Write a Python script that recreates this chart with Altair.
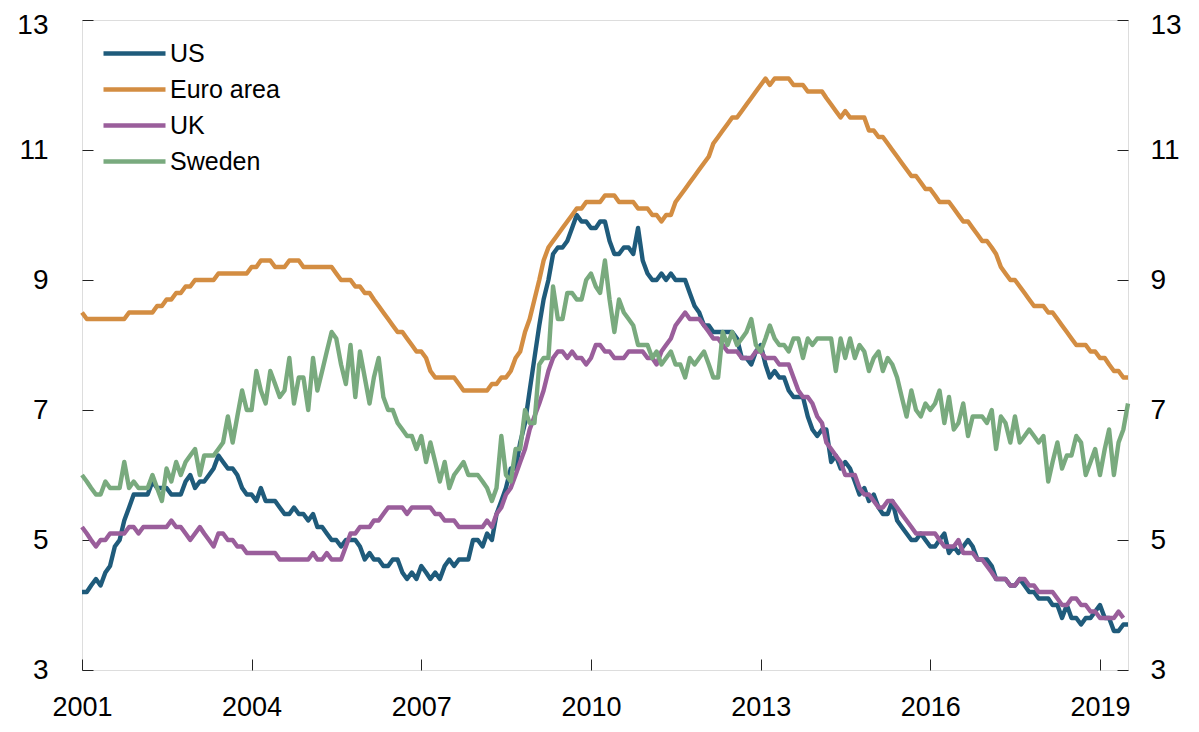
import altair as alt
import pandas as pd

# ---------------- data (monthly, starting January 2001) ----------------
series_names = ["US", "Euro area", "UK", "Sweden"]
series_colors = ["#1f5b7b", "#d38d42", "#9a5e9b", "#79aa7e"]
start_year = 2001

us = [
    4.2, 4.2, 4.3, 4.4, 4.3, 4.5, 4.6, 4.9, 5.0, 5.3, 5.5, 5.7,   # 2001
    5.7, 5.7, 5.7, 5.9, 5.8, 5.8, 5.8, 5.7, 5.7, 5.7, 5.9, 6.0,   # 2002
    5.8, 5.9, 5.9, 6.0, 6.1, 6.3, 6.2, 6.1, 6.1, 6.0, 5.8, 5.7,   # 2003
    5.7, 5.6, 5.8, 5.6, 5.6, 5.6, 5.5, 5.4, 5.4, 5.5, 5.4, 5.4,   # 2004
    5.3, 5.4, 5.2, 5.2, 5.1, 5.0, 5.0, 4.9, 5.0, 5.0, 5.0, 4.9,   # 2005
    4.7, 4.8, 4.7, 4.7, 4.6, 4.6, 4.7, 4.7, 4.5, 4.4, 4.5, 4.4,   # 2006
    4.6, 4.5, 4.4, 4.5, 4.4, 4.6, 4.7, 4.6, 4.7, 4.7, 4.7, 5.0,   # 2007
    5.0, 4.9, 5.1, 5.0, 5.4, 5.6, 5.8, 6.1, 6.1, 6.5, 6.8, 7.3,   # 2008
    7.8, 8.3, 8.7, 9.0, 9.4, 9.5, 9.5, 9.6, 9.8, 10.0, 9.9, 9.9,  # 2009
    9.8, 9.8, 9.9, 9.9, 9.6, 9.4, 9.4, 9.5, 9.5, 9.4, 9.8, 9.3,   # 2010
    9.1, 9.0, 9.0, 9.1, 9.0, 9.1, 9.0, 9.0, 9.0, 8.8, 8.6, 8.5,   # 2011
    8.3, 8.3, 8.2, 8.2, 8.2, 8.2, 8.2, 8.1, 7.8, 7.8, 7.7, 7.9,   # 2012
    8.0, 7.7, 7.5, 7.6, 7.5, 7.5, 7.3, 7.2, 7.2, 7.2, 6.9, 6.7,   # 2013
    6.6, 6.7, 6.7, 6.2, 6.3, 6.1, 6.2, 6.1, 5.9, 5.7, 5.8, 5.6,   # 2014
    5.7, 5.5, 5.4, 5.4, 5.6, 5.3, 5.2, 5.1, 5.0, 5.0, 5.1, 5.0,   # 2015
    4.9, 4.9, 5.0, 5.1, 4.8, 4.9, 4.8, 4.9, 5.0, 4.9, 4.7, 4.7,   # 2016
    4.7, 4.6, 4.4, 4.4, 4.4, 4.3, 4.3, 4.4, 4.3, 4.2, 4.2, 4.1,   # 2017
    4.1, 4.1, 4.0, 4.0, 3.8, 4.0, 3.8, 3.8, 3.7, 3.8, 3.8, 3.9,   # 2018
    4.0, 3.8, 3.8, 3.6, 3.6, 3.7, 3.7,                            # 2019
]

euro = [
    8.5, 8.4, 8.4, 8.4, 8.4, 8.4, 8.4, 8.4, 8.4, 8.4, 8.5, 8.5,   # 2001
    8.5, 8.5, 8.5, 8.5, 8.6, 8.6, 8.7, 8.7, 8.8, 8.8, 8.9, 8.9,   # 2002
    9.0, 9.0, 9.0, 9.0, 9.0, 9.1, 9.1, 9.1, 9.1, 9.1, 9.1, 9.1,   # 2003
    9.2, 9.2, 9.3, 9.3, 9.3, 9.2, 9.2, 9.2, 9.3, 9.3, 9.3, 9.2,   # 2004
    9.2, 9.2, 9.2, 9.2, 9.2, 9.2, 9.1, 9.0, 9.0, 9.0, 8.9, 8.9,   # 2005
    8.8, 8.8, 8.7, 8.6, 8.5, 8.4, 8.3, 8.2, 8.2, 8.1, 8.0, 7.9,   # 2006
    7.9, 7.8, 7.6, 7.5, 7.5, 7.5, 7.5, 7.5, 7.4, 7.3, 7.3, 7.3,   # 2007
    7.3, 7.3, 7.3, 7.4, 7.4, 7.5, 7.5, 7.6, 7.8, 7.9, 8.2, 8.4,   # 2008
    8.7, 9.0, 9.3, 9.5, 9.6, 9.7, 9.8, 9.9, 10.0, 10.1, 10.1, 10.2,  # 2009
    10.2, 10.2, 10.2, 10.3, 10.3, 10.3, 10.2, 10.2, 10.2, 10.2, 10.1, 10.1,  # 2010
    10.1, 10.0, 10.0, 9.9, 10.0, 10.0, 10.2, 10.3, 10.4, 10.5, 10.6, 10.7,  # 2011
    10.8, 10.9, 11.1, 11.2, 11.3, 11.4, 11.5, 11.5, 11.6, 11.7, 11.8, 11.9,  # 2012
    12.0, 12.1, 12.0, 12.1, 12.1, 12.1, 12.1, 12.0, 12.0, 12.0, 11.9, 11.9,  # 2013
    11.9, 11.9, 11.8, 11.7, 11.6, 11.5, 11.6, 11.5, 11.5, 11.5, 11.5, 11.3,  # 2014
    11.3, 11.2, 11.2, 11.1, 11.0, 10.9, 10.8, 10.7, 10.6, 10.6, 10.5, 10.4,  # 2015
    10.4, 10.3, 10.2, 10.2, 10.2, 10.1, 10.0, 9.9, 9.9, 9.8, 9.7, 9.6,   # 2016
    9.6, 9.5, 9.4, 9.2, 9.1, 9.0, 9.0, 8.9, 8.8, 8.7, 8.6, 8.6,   # 2017
    8.6, 8.5, 8.5, 8.4, 8.3, 8.2, 8.1, 8.0, 8.0, 8.0, 7.9, 7.9,   # 2018
    7.8, 7.8, 7.7, 7.6, 7.6, 7.5, 7.5,                            # 2019
]

uk = [
    5.2, 5.1, 5.0, 4.9, 5.0, 5.0, 5.1, 5.1, 5.1, 5.1, 5.2, 5.2,   # 2001
    5.1, 5.2, 5.2, 5.2, 5.2, 5.2, 5.2, 5.3, 5.2, 5.2, 5.1, 5.0,   # 2002
    5.1, 5.2, 5.1, 5.0, 4.9, 5.1, 5.1, 5.0, 5.0, 4.9, 4.9, 4.8,   # 2003
    4.8, 4.8, 4.8, 4.8, 4.8, 4.8, 4.7, 4.7, 4.7, 4.7, 4.7, 4.7,   # 2004
    4.7, 4.8, 4.7, 4.7, 4.8, 4.7, 4.7, 4.7, 4.9, 5.1, 5.1, 5.2,   # 2005
    5.2, 5.2, 5.3, 5.3, 5.4, 5.5, 5.5, 5.5, 5.5, 5.4, 5.5, 5.5,   # 2006
    5.5, 5.5, 5.5, 5.4, 5.4, 5.3, 5.3, 5.3, 5.2, 5.2, 5.2, 5.2,   # 2007
    5.2, 5.2, 5.3, 5.2, 5.4, 5.5, 5.7, 5.8, 6.0, 6.2, 6.4, 6.7,   # 2008
    6.9, 7.1, 7.3, 7.6, 7.8, 7.9, 7.9, 7.8, 7.9, 7.8, 7.8, 7.7,   # 2009
    7.8, 8.0, 8.0, 7.9, 7.9, 7.8, 7.8, 7.8, 7.9, 7.9, 7.9, 7.9,   # 2010
    7.8, 7.8, 7.7, 7.9, 8.0, 8.1, 8.3, 8.4, 8.5, 8.4, 8.4, 8.4,   # 2011
    8.3, 8.2, 8.1, 8.1, 8.0, 7.9, 7.9, 7.9, 7.8, 7.8, 7.8, 7.9,   # 2012
    7.9, 7.8, 7.8, 7.8, 7.7, 7.7, 7.7, 7.5, 7.3, 7.2, 7.2, 7.1,   # 2013
    6.9, 6.8, 6.5, 6.4, 6.3, 6.2, 6.0, 6.0, 6.0, 5.8, 5.7, 5.7,   # 2014
    5.6, 5.5, 5.5, 5.6, 5.6, 5.5, 5.4, 5.3, 5.2, 5.1, 5.1, 5.1,   # 2015
    5.1, 5.1, 5.0, 4.9, 4.9, 4.9, 5.0, 4.8, 4.8, 4.8, 4.7, 4.7,   # 2016
    4.6, 4.5, 4.4, 4.4, 4.4, 4.3, 4.3, 4.4, 4.4, 4.3, 4.3, 4.2,   # 2017
    4.2, 4.2, 4.2, 4.1, 4.0, 4.0, 4.1, 4.1, 4.0, 4.0, 3.9, 3.9,   # 2018
    3.8, 3.8, 3.8, 3.8, 3.9, 3.8,                                 # 2019
]

sweden = [
    6.0, 5.9, 5.8, 5.7, 5.7, 5.9, 5.8, 5.8, 5.8, 6.2, 5.8, 5.9,   # 2001
    5.8, 5.8, 5.8, 6.0, 5.8, 5.6, 6.1, 5.9, 6.2, 6.0, 6.2, 6.3,   # 2002
    6.4, 6.0, 6.3, 6.3, 6.3, 6.4, 6.5, 6.9, 6.5, 6.9, 7.3, 7.0,   # 2003
    7.0, 7.6, 7.3, 7.1, 7.6, 7.4, 7.2, 7.3, 7.8, 7.1, 7.5, 7.5,   # 2004
    7.0, 7.8, 7.3, 7.6, 7.9, 8.2, 8.1, 7.7, 7.4, 8.0, 7.2, 7.9,   # 2005
    7.5, 7.1, 7.5, 7.8, 7.2, 7.0, 7.0, 6.8, 6.7, 6.6, 6.6, 6.4,   # 2006
    6.6, 6.2, 6.5, 6.2, 5.9, 6.2, 5.8, 6.0, 6.1, 6.2, 6.0, 6.0,   # 2007
    6.0, 5.9, 5.8, 5.6, 5.8, 6.6, 6.0, 5.9, 6.4, 6.4, 7.0, 6.8,   # 2008
    6.8, 7.7, 7.8, 7.8, 8.9, 8.4, 8.4, 8.8, 8.8, 8.7, 8.7, 9.0,   # 2009
    9.1, 8.9, 8.8, 9.3, 8.7, 8.2, 8.7, 8.5, 8.4, 8.3, 8.0, 8.0,   # 2010
    8.0, 7.8, 7.9, 7.7, 7.8, 7.9, 7.7, 7.7, 7.5, 7.8, 7.7, 7.8,   # 2011
    7.9, 7.7, 7.5, 7.5, 8.2, 8.0, 8.2, 8.0, 8.1, 8.2, 8.4, 8.0,   # 2012
    7.9, 8.1, 8.3, 8.1, 8.0, 8.0, 7.9, 8.1, 8.1, 7.8, 8.1, 8.0,   # 2013
    8.1, 8.1, 8.1, 8.1, 7.6, 8.1, 7.8, 8.1, 7.8, 8.0, 7.9, 7.6,   # 2014
    7.8, 7.9, 7.6, 7.8, 7.7, 7.5, 7.2, 6.9, 7.3, 7.0, 6.9, 7.1,   # 2015
    7.0, 7.1, 7.3, 6.8, 7.2, 6.7, 6.8, 7.1, 6.6, 6.9, 6.9, 6.9,   # 2016
    6.8, 7.0, 6.4, 6.9, 6.8, 6.5, 6.9, 6.5, 6.6, 6.7, 6.6, 6.5,   # 2017
    6.6, 5.9, 6.2, 6.5, 6.1, 6.3, 6.3, 6.6, 6.5, 6.0, 6.2, 6.4,   # 2018
    6.0, 6.4, 6.7, 6.0, 6.5, 6.7, 7.1,                            # 2019
]

y_ticks = [3, 5, 7, 9, 11, 13]
x_tick_years = [2001, 2004, 2007, 2010, 2013, 2016, 2019]

# ---------------- long table ----------------
rows = []
for name, vals in zip(series_names, [us, euro, uk, sweden]):
    for i, v in enumerate(vals):
        rows.append({
            "date": f"{start_year + i // 12}-{i % 12 + 1:02d}-01T00:00:00",
            "series": name,
            "value": v,
        })
df = pd.DataFrame(rows)

W, H = 1046, 650
FONT = "Liberation Sans"

x_scale = alt.Scale(domain=[alt.DateTime(year=2001, month=1, date=1),
                            alt.DateTime(year=2019, month=7, date=1)])
y_scale = alt.Scale(domain=[3, 13], nice=False, zero=False)
x_vals = [alt.DateTime(year=y, month=1, date=1) for y in x_tick_years]

common_axis = dict(grid=False, title=None, domain=False)
# nudge the topmost y label down a little so it stays inside the canvas
top_label_offset = {"condition": {"test": "datum.value == 13", "value": 5}, "value": 0}

ax_x_labels = alt.Axis(orient="bottom", values=x_vals, format="%Y", labelFontSize=27,
                       labelFont=FONT, labelColor="#000000", labelPadding=24,
                       ticks=False, tickSize=0, labelFlush=False, labelOverlap=False,
                       **common_axis)
ax_x_ticks = alt.Axis(orient="top", offset=-H, values=x_vals, labels=False,
                      ticks=True, tickSize=11, tickColor="#222222", tickWidth=1,
                      **common_axis)
ax_y_left = alt.Axis(orient="left", values=y_ticks, labelFontSize=28, labelFont=FONT,
                     labelColor="#000000", labelPadding=34, ticks=False, tickSize=0,
                     labelFlush=False, labelOverlap=False, labelOffset=top_label_offset,
                     **common_axis)
ax_y_right = alt.Axis(orient="right", values=y_ticks, labelFontSize=28, labelFont=FONT,
                      labelColor="#000000", labelPadding=22, ticks=False, tickSize=0,
                      labelFlush=False, labelOverlap=False, labelOffset=top_label_offset,
                      **common_axis)
ax_y_ticks_l = alt.Axis(orient="right", offset=-W, values=y_ticks, labels=False,
                        ticks=True, tickSize=11, tickColor="#222222", tickWidth=1,
                        **common_axis)
ax_y_ticks_r = alt.Axis(orient="left", offset=-W, values=y_ticks, labels=False,
                        ticks=True, tickSize=11, tickColor="#222222", tickWidth=1,
                        **common_axis)

legend = alt.Legend(orient="none", legendX=19, legendY=21, title=None,
                    symbolType="stroke", symbolSize=3844, symbolStrokeWidth=4.5,
                    labelFontSize=25, labelFont=FONT, labelColor="#000000",
                    labelOffset=2, rowPadding=10, padding=0, clipHeight=25)
color = alt.Color("series:N", scale=alt.Scale(domain=series_names, range=series_colors),
                  legend=legend)

base = alt.Chart(df)


def series_layer(name, xaxis=None, yaxis=None):
    return base.transform_filter(alt.datum.series == name).mark_line(
        strokeWidth=4.4, strokeJoin="round", strokeCap="butt"
    ).encode(
        x=alt.X("date:T", scale=x_scale, axis=xaxis),
        y=alt.Y("value:Q", scale=y_scale, axis=yaxis),
        color=color,
    )


def axis_layer(xaxis=None, yaxis=None):
    return base.mark_line(strokeOpacity=0).encode(
        x=alt.X("date:T", scale=x_scale, axis=xaxis),
        y=alt.Y("value:Q", scale=y_scale, axis=yaxis),
        detail="series:N",
    )


layers = [
    series_layer("US", ax_x_labels, ax_y_left),
    series_layer("Euro area"),
    series_layer("UK"),
    series_layer("Sweden"),
    axis_layer(ax_x_ticks, ax_y_right),
    axis_layer(None, ax_y_ticks_l),
    axis_layer(None, ax_y_ticks_r),
]

chart = alt.layer(*layers).resolve_axis(
    x="independent", y="independent"
).properties(
    width=W, height=H,
    autosize=alt.AutoSizeParams(type="none"),
    padding={"left": 74, "top": 12, "right": 63, "bottom": 54},
).configure_view(
    stroke="#5f5f5f", strokeWidth=2
).configure(
    background="white"
)

chart.save("out.html", embed_options={"renderer": "svg", "actions": False})
